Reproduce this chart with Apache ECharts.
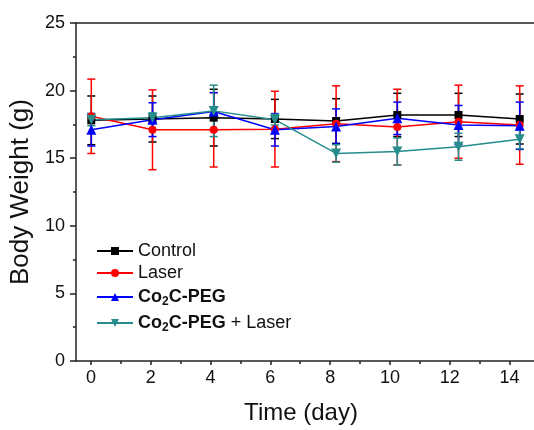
<!DOCTYPE html>
<html>
<head>
<meta charset="utf-8">
<script src="https://cdn.jsdelivr.net/npm/echarts@6/dist/echarts.min.js"></script>
<style>html,body{margin:0;padding:0;background:#fff}#c{width:534px;height:430px}</style>
</head>
<body>
<div id="c"></div>
<script>
const days = [0, 2, 4, 6, 8, 10, 12, 14];
const xTickLabels = [0, 2, 4, 6, 8, 10, 12, 14];
const xMinorTicks = [1, 3, 5, 7, 9, 11, 13];
const seriesNames = ['Control', 'Laser', 'Co2C-PEG', 'Co2C-PEG + Laser'];
const control = [17.8, 17.9, 18.0, 17.9, 17.75, 18.2, 18.2, 17.9];
const controlErr = [1.8, 1.7, 2.1, 1.45, 1.65, 1.6, 1.6, 1.85];
const laser = [18.1, 17.1, 17.1, 17.15, 17.55, 17.3, 17.7, 17.45];
const laserErr = [2.75, 2.95, 2.75, 2.8, 2.8, 2.8, 2.7, 2.9];
const coPeg = [17.1, 17.85, 18.45, 17.1, 17.35, 17.95, 17.45, 17.4];
const coPegErr = [1.2, 1.25, 1.4, 1.2, 1.3, 1.2, 1.45, 1.75];
const coPegLaser = [17.85, 18.0, 18.5, 17.85, 15.35, 15.5, 15.85, 16.4];
const coPegLaserErr = [0.45, 0.35, 1.9, 0.4, 0.65, 1.0, 1.0, 0.7];

const FONT = '"Liberation Sans", Arial, sans-serif';
const colors = ['#000000', '#ff0000', '#0000ff', '#268c8c'];
const symbols = ['rect', 'circle', 'triangle', 'triangle'];
const symbolSizes = [8, 8, 10, 10];
const symbolRotates = [0, 0, 0, 180];
const values = [control, laser, coPeg, coPegLaser];
const errs = [controlErr, laserErr, coPegErr, coPegLaserErr];

function errorBarSeries(i) {
  const color = colors[i];
  return {
    type: 'custom',
    xAxisIndex: 0,
    yAxisIndex: 0,
    z: 2,
    silent: true,
    encode: { x: 0, y: 1 },
    data: days.map((d, k) => [d, values[i][k], errs[i][k]]),
    renderItem: function (params, api) {
      const x = api.value(0), v = api.value(1), e = api.value(2);
      const t = api.coord([x, v + e]);
      const b = api.coord([x, v - e]);
      const hw = 4;
      const st = { stroke: color, lineWidth: 1.5 };
      return {
        type: 'group',
        children: [
          { type: 'line', shape: { x1: t[0], y1: t[1], x2: b[0], y2: b[1] }, style: st },
          { type: 'line', shape: { x1: t[0] - hw, y1: t[1], x2: t[0] + hw, y2: t[1] }, style: st },
          { type: 'line', shape: { x1: b[0] - hw, y1: b[1], x2: b[0] + hw, y2: b[1] }, style: st }
        ]
      };
    }
  };
}

function lineSeries(i) {
  return {
    name: seriesNames[i],
    type: 'line',
    xAxisIndex: 0,
    yAxisIndex: 0,
    z: 3,
    data: days.map((d, k) => [d, values[i][k]]),
    symbol: symbols[i],
    symbolSize: symbolSizes[i],
    symbolRotate: symbolRotates[i],
    showAllSymbol: true,
    lineStyle: { color: colors[i], width: 1.5 },
    itemStyle: { color: colors[i] }
  };
}

const series = [];
for (let i = 0; i < 4; i++) series.push(errorBarSeries(i));
for (let i = 0; i < 4; i++) series.push(lineSeries(i));

const axisColor = '#222';
const chart = echarts.init(document.getElementById('c'), null, { renderer: 'canvas' });
chart.setOption({
  animation: false,
  backgroundColor: '#fff',
  textStyle: { fontFamily: FONT },
  grid: { left: 76, right: 0, top: 23, bottom: 65, containLabel: false },
  xAxis: [
    { type: 'value', min: -0.5, max: 14.467, show: false },
    {
      type: 'value', position: 'bottom', min: -0.5, max: 14.818,
      axisLine: { show: true, onZero: false, lineStyle: { color: axisColor, width: 1.5 } },
      axisTick: { show: true, inside: false, length: 4, customValues: xTickLabels, lineStyle: { color: axisColor, width: 1.5 } },
      axisLabel: { show: true, customValues: xTickLabels, fontSize: 18, color: '#111', margin: 8, fontFamily: FONT },
      splitLine: { show: false },
      name: 'Time (day)', nameLocation: 'middle', nameGap: 40,
      nameTextStyle: { fontSize: 24, color: '#111', fontFamily: FONT, padding: [0, 8, 0, 0] }
    },
    {
      type: 'value', position: 'bottom', min: -0.5, max: 14.818,
      axisLine: { show: false },
      axisTick: { show: true, inside: false, length: 3, customValues: xMinorTicks, lineStyle: { color: axisColor, width: 1.5 } },
      axisLabel: { show: false },
      splitLine: { show: false }
    },
    {
      type: 'value', position: 'top', min: -0.5, max: 14.818,
      axisLine: { show: true, onZero: false, lineStyle: { color: axisColor, width: 1.5 } },
      axisTick: { show: false }, axisLabel: { show: false }, splitLine: { show: false }
    }
  ],
  yAxis: [
    {
      type: 'value', min: 0, max: 25, interval: 5,
      axisLine: { show: true, onZero: false, lineStyle: { color: axisColor, width: 1.5 } },
      axisTick: { show: true, inside: false, length: 6, lineStyle: { color: axisColor, width: 1.5 } },
      minorTick: { show: true, splitNumber: 2, length: 3, lineStyle: { color: axisColor, width: 1.5 } },
      axisLabel: { fontSize: 18, color: '#111', margin: 11, fontFamily: FONT },
      splitLine: { show: false },
      name: 'Body Weight (g)', nameLocation: 'middle', nameGap: 41,
      nameTextStyle: { fontSize: 26, color: '#111', fontFamily: FONT }
    }
  ],
  legend: {
    data: seriesNames,
    orient: 'vertical',
    left: 96, top: 242, padding: 0,
    itemWidth: 36, itemHeight: 10, itemGap: 4, itemTextGap: 6,
    formatter: function (name) {
      if (name === 'Co2C-PEG') return '{b|Co}{s|2}{b|C-PEG}';
      if (name === 'Co2C-PEG + Laser') return '{b|Co}{s|2}{b|C-PEG}{n| + Laser}';
      return '{n|' + name + '}';
    },
    textStyle: {
      fontFamily: FONT, fontSize: 18, color: '#111',
      rich: {
        n: { fontSize: 18, color: '#111', fontFamily: FONT, lineHeight: 20 },
        b: { fontSize: 18, color: '#111', fontWeight: 'bold', fontFamily: FONT, lineHeight: 20 },
        s: { fontSize: 12, color: '#111', fontWeight: 'bold', fontFamily: FONT, lineHeight: 12, padding: [10, 0, 0, 0] }
      }
    }
  },
  series: series
});
</script>
</body>
</html>
